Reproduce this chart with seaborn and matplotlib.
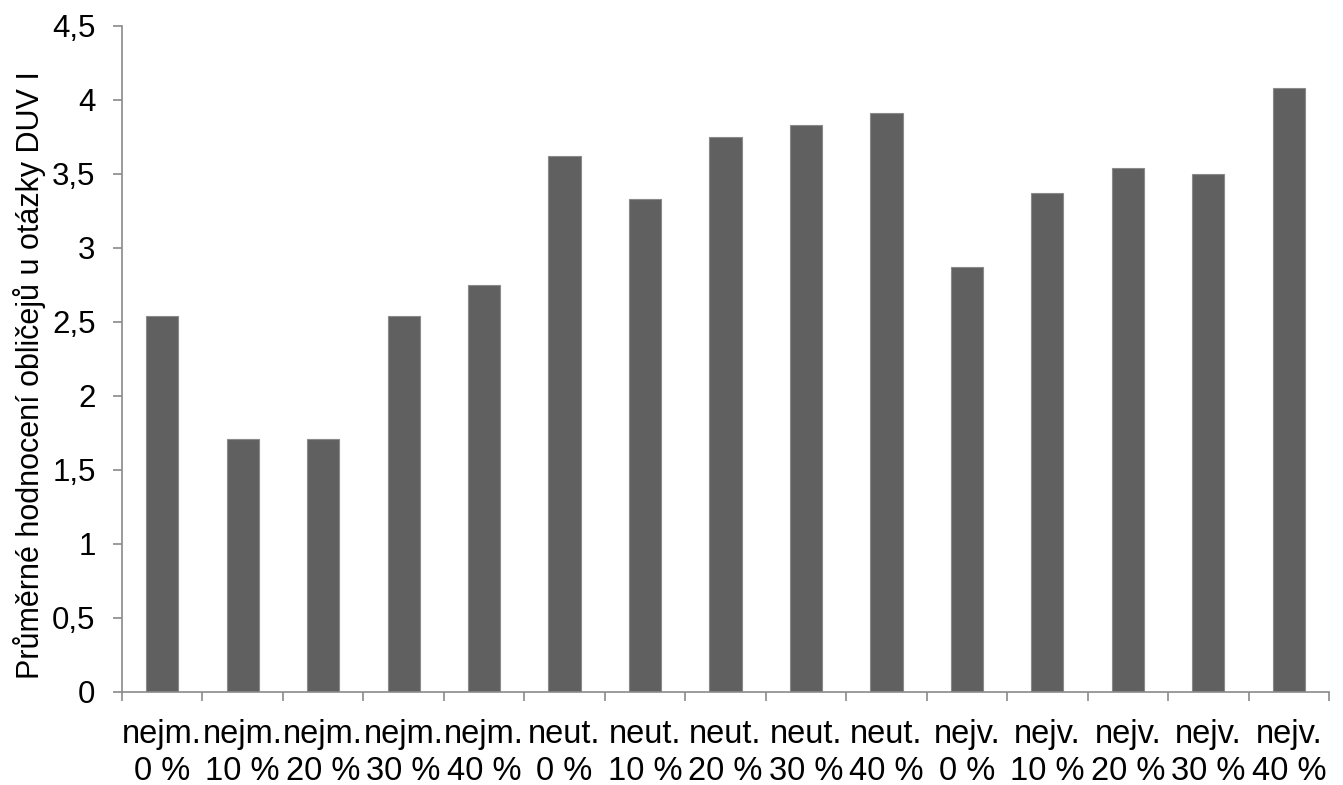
import matplotlib
matplotlib.use("Agg")
import matplotlib.pyplot as plt
import seaborn as sns
import pandas as pd
from matplotlib.ticker import FixedLocator, FuncFormatter

groups = ["nejm.", "nejm.", "nejm.", "nejm.", "nejm.",
          "neut.", "neut.", "neut.", "neut.", "neut.",
          "nejv.", "nejv.", "nejv.", "nejv.", "nejv."]
levels = ["0 %", "10 %", "20 %", "30 %", "40 %"] * 3
values = [2.54, 1.71, 1.71, 2.54, 2.75,
          3.62, 3.33, 3.75, 3.83, 3.91,
          2.87, 3.37, 3.54, 3.50, 4.08]
y_ticks = [0, 0.5, 1, 1.5, 2, 2.5, 3, 3.5, 4, 4.5]
y_label = "Průměrné hodnocení obličejů u otázky DUV I"

categories = [f"{g}\n{l}" for g, l in zip(groups, levels)]
df = pd.DataFrame({"cat": categories, "val": values, "idx": range(len(values))})

sns.set_theme(style="white")
plt.rcParams["font.family"] = ["Liberation Sans", "DejaVu Sans"]
plt.rcParams["text.color"] = "black"
plt.rcParams["axes.labelcolor"] = "black"
plt.rcParams["xtick.color"] = "black"
plt.rcParams["ytick.color"] = "black"

FS = 23.5

fig = plt.figure(figsize=(13.43, 7.85), dpi=100)
ax = fig.add_axes([0.0908, 0.1189, 0.8988, 0.8481])

sns.barplot(data=df, x="idx", y="val", color="#606060", saturation=1,
            width=0.4, ax=ax, edgecolor="#8a8a8a", linewidth=0.8)

ax.set_ylim(0, 4.5)
ax.set_xlim(-0.5, len(values) - 0.5)
ax.yaxis.set_major_locator(FixedLocator(y_ticks))
ax.yaxis.set_major_formatter(FuncFormatter(lambda v, p: (f"{v:g}").replace(".", ",")))

ax.set_xticks(range(len(values)))
ax.set_xticklabels(categories, fontsize=FS, linespacing=1.22, color="black")
ax.set_xticks([i - 0.5 for i in range(len(values) + 1)], minor=True)
ax.tick_params(axis="x", which="major", length=0, pad=20)
ax.tick_params(axis="x", which="minor", length=6.5, width=1.2, color="#8a8a8a", direction="out", bottom=True)
ax.tick_params(axis="y", which="major", length=6.5, width=1.2, color="#8a8a8a", direction="out",
               labelsize=22.5, labelcolor="black", pad=12.5, left=True)

ax.set_xlabel("")
ax.set_ylabel(y_label, fontsize=22, color="black")
ax.yaxis.set_label_coords(-0.063, 0.475)

for side in ["top", "right"]:
    ax.spines[side].set_visible(False)
for side in ["left", "bottom"]:
    ax.spines[side].set_color("#8a8a8a")
    ax.spines[side].set_linewidth(1.2)

fig.savefig("out.png", dpi=100, facecolor="white")
